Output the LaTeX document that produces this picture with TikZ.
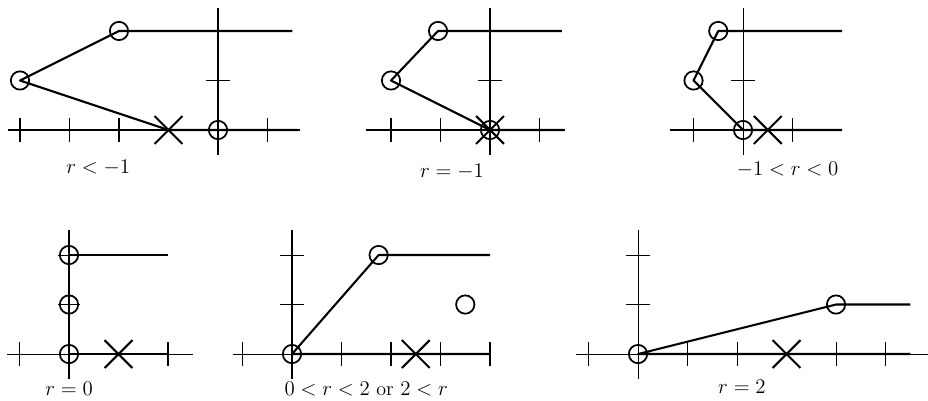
\documentclass[tikz,border=0pt]{standalone}
\usepackage{amsmath}
\usetikzlibrary{shapes.misc}

\tikzset{
    axisline/.style={line width=0.6pt},
    graphline/.style={line width=1.2pt, line join=round},
    root/.style={circle, draw, line width=1pt, minimum size=0.37cm, inner sep=0pt},
    pole/.style={cross out, draw, line width=1.2pt, minimum size=0.52cm, inner sep=0pt},
    caption/.style={font=\fontsize{11.5}{14}\selectfont, inner sep=1pt},
}

\begin{document}
\begin{tikzpicture}
    \useasboundingbox (0, 0) rectangle (18.747, 8.081);

    % r < -1
    \begin{scope}[shift={(4.404, 5.455)}]
        \draw[axisline] (-4.25, 0) -- (1.65, 0);
        \draw[axisline] (0, -0.5) -- (0, 2.47);
        \foreach \x in {-4, -3, -2, 1} \draw[axisline] (\x, -0.25) -- (\x, 0.25);
        \draw[axisline] (-0.25, 1) -- (0.25, 1);
        \node[root] (a1) at (-4, 1) {};
        \node[root] (a2) at (-2, 2) {};
        \node[root] (a3) at (0, 0) {};
        \node[pole] (a4) at (-1, 0) {};
        \coordinate (a5) at (1.5, 2);
        \coordinate (a6) at (1.62, 0);
        \draw[graphline] (a5) -- (a2.center) -- (a1.center) -- (a4.center) -- (a6);
        \node[caption] (la) at (-2.42, -0.77) {$r < -1$};
    \end{scope}

    % r = -1
    \begin{scope}[shift={(9.899, 5.455)}]
        \draw[axisline] (-2.5, 0) -- (1.52, 0);
        \draw[axisline] (0, -0.5) -- (0, 2.47);
        \foreach \x in {-2, -1, 1} \draw[axisline] (\x, -0.25) -- (\x, 0.25);
        \draw[axisline] (-0.25, 1) -- (0.25, 1);
        \node[root] (b1) at (-2, 1) {};
        \node[root] (b2) at (-1.05, 2) {};
        \node[root] (b3) at (0, 0) {};
        \node[pole] (b4) at (0, 0) {};
        \coordinate (b5) at (1.45, 2);
        \coordinate (b6) at (1.5, 0);
        \draw[graphline] (b5) -- (b2.center) -- (b1.center) -- (b3.center) -- (b6);
        \node[caption] (lb) at (-0.77, -0.85) {$r = -1$};
    \end{scope}

    % -1 < r < 0
    \begin{scope}[shift={(15.01, 5.455)}]
        \draw[axisline] (-1.47, 0) -- (2, 0);
        \draw[axisline] (0, -0.5) -- (0, 2.47);
        \foreach \x in {-1, 1} \draw[axisline] (\x, -0.25) -- (\x, 0.25);
        \draw[axisline] (-0.25, 1) -- (0.25, 1);
        \node[root] (c1) at (-1, 1) {};
        \node[root] (c2) at (-0.5, 2) {};
        \node[root] (c3) at (0, 0) {};
        \node[pole] (c4) at (0.5, 0) {};
        \coordinate (c5) at (2, 2);
        \coordinate (c6) at (2, 0);
        \draw[graphline] (c5) -- (c2.center) -- (c1.center) -- (c3.center) -- (c6);
        \node[caption] (lc) at (0.9, -0.81) {$-1 < r < 0$};
    \end{scope}

    % r = 0
    \begin{scope}[shift={(1.394, 0.929)}]
        \draw[axisline] (-1.25, 0) -- (2.5, 0);
        \draw[axisline] (0, -0.5) -- (0, 2.5);
        \foreach \x in {-1, 2} \draw[axisline] (\x, -0.25) -- (\x, 0.25);
        \foreach \y in {1, 2} \draw[axisline] (-0.22, \y) -- (0.22, \y);
        \node[root] (d1) at (0, 0) {};
        \node[root] (d2) at (0, 1) {};
        \node[root] (d3) at (0, 2) {};
        \node[pole] (d4) at (1, 0) {};
        \coordinate (d5) at (2, 2);
        \coordinate (d6) at (2, 0);
        \draw[graphline] (d5) -- (d3.center) -- (d2.center) -- (d1.center) -- (d6);
        \node[caption] (ld) at (0, -0.7) {$r = 0$};
    \end{scope}

    % 0 < r < 2 or 2 < r
    \begin{scope}[shift={(5.899, 0.929)}]
        \draw[axisline] (-1.2, 0) -- (4, 0);
        \draw[axisline] (0, -0.5) -- (0, 2.5);
        \foreach \x in {-1, 1, 2, 3, 4} \draw[axisline] (\x, -0.25) -- (\x, 0.25);
        \foreach \y in {1, 2} \draw[axisline] (-0.25, \y) -- (0.25, \y);
        \node[root] (e1) at (0, 0) {};
        \node[root] (e2) at (1.75, 2) {};
        \node[root] (e3) at (3.5, 1) {};
        \node[pole] (e4) at (2.5, 0) {};
        \coordinate (e5) at (4, 2);
        \coordinate (e6) at (4, 0);
        \draw[graphline] (e5) -- (e2.center) -- (e1.center) -- (e6);
        \node[caption] (le) at (1.5, -0.7) {$0 < r < 2$ or $2 < r$};
    \end{scope}

    % r = 2
    \begin{scope}[shift={(12.889, 0.929)}]
        \draw[axisline] (-1.25, 0) -- (5.85, 0);
        \draw[axisline] (0, -0.5) -- (0, 2.5);
        \foreach \x in {-1, 1, 2, 4, 5} \draw[axisline] (\x, -0.25) -- (\x, 0.25);
        \foreach \y in {1, 2} \draw[axisline] (-0.25, \y) -- (0.25, \y);
        \node[root] (f1) at (0, 0) {};
        \node[root] (f2) at (4, 1) {};
        \node[pole] (f3) at (3, 0) {};
        \coordinate (f4) at (5.5, 1);
        \coordinate (f5) at (5.5, 0);
        \draw[graphline] (f4) -- (f2.center) -- (f1.center) -- (f5);
        \node[caption] (lf) at (2.1, -0.66) {$r = 2$};
    \end{scope}
\end{tikzpicture}
\end{document}
